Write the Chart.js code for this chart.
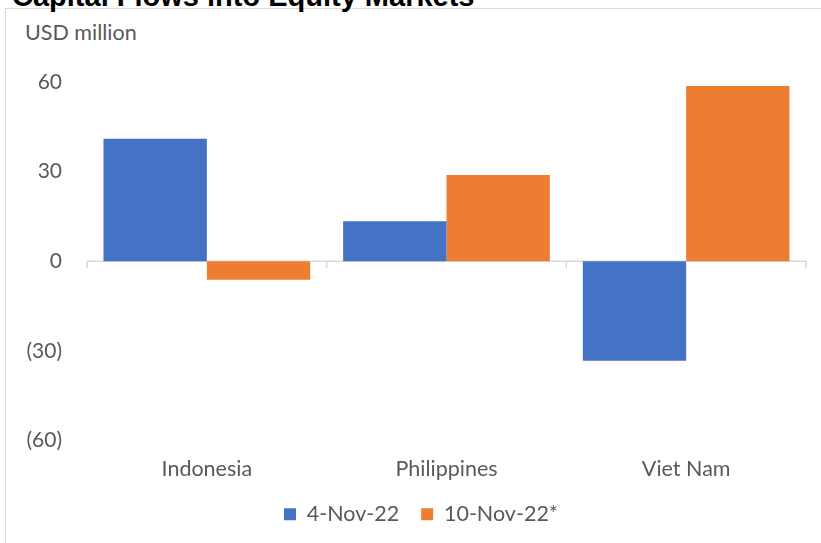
<!DOCTYPE html>
<html>
<head>
<meta charset="utf-8">
<script src="https://cdn.jsdelivr.net/npm/chart.js@4.4.0/dist/chart.umd.min.js"></script>
<style>
  html, body { margin: 0; padding: 0; background: #ffffff; overflow: hidden; }
  #wrap { position: relative; width: 821px; height: 543px; }
  #frame { position: absolute; left: 5px; top: 8px; right: -10px; bottom: -10px;
           border-left: 1.5px solid #d9d9d9; border-top: 1.5px solid #d9d9d9; }
  #title { position: absolute; left: 12px; top: -20px; font-family: "Liberation Sans", Arial, sans-serif;
           font-weight: bold; font-size: 29px; color: #000; white-space: nowrap; }
  #unit { position: absolute; left: 25px; top: 19px; font-family: Lato, "Open Sans", sans-serif;
          font-size: 21.5px; color: #595959; white-space: nowrap; }
  canvas { position: absolute; left: 0; top: 0; }
</style>
</head>
<body>
<div id="wrap">
  <div id="frame"></div>
  <div id="title">Capital Flows into Equity Markets</div>
  <div id="unit">USD million</div>
  <canvas id="c" width="821" height="543"></canvas>
</div>
<script>
const categories = ["Indonesia", "Philippines", "Viet Nam"];
const seriesNames = ["4-Nov-22", "10-Nov-22*"];
const nov4 = [41, 13.4, -33.3];
const nov10 = [-6.2, 28.9, 58.7];
const yTicks = [-60, -30, 0, 30, 60];

const FONT = "Lato, 'Open Sans', sans-serif";
const GRAY = "#595959";
const LINE = "#d9d9d9";

const zeroAxis = {
  id: "zeroAxis",
  afterLayout(chart) {
    const lg = chart.legend;
    if (lg) { lg.left += 18; lg.right += 18; }
  },
  beforeDatasetsDraw(chart) {
    const { ctx, scales: { x, y } } = chart;
    const y0 = y.getPixelForValue(0);
    ctx.save();
    ctx.strokeStyle = LINE;
    ctx.lineWidth = 1.5;
    ctx.beginPath();
    ctx.moveTo(x.left, y0);
    ctx.lineTo(x.right, y0);
    const n = categories.length;
    for (let i = 0; i <= n; i++) {
      const px = x.left + (x.right - x.left) * i / n;
      ctx.moveTo(px, y0);
      ctx.lineTo(px, y0 + 7);
    }
    ctx.stroke();
    ctx.restore();
  }
};

new Chart(document.getElementById("c"), {
  type: "bar",
  data: {
    labels: categories,
    datasets: [
      { label: seriesNames[0], data: nov4, backgroundColor: "#4472C4", borderWidth: 0 },
      { label: seriesNames[1], data: nov10, backgroundColor: "#ED7D31", borderWidth: 0 }
    ]
  },
  options: {
    responsive: false,
    animation: false,
    devicePixelRatio: 1,
    layout: { padding: { top: 82, right: 15, left: 0, bottom: 8 } },
    datasets: { bar: { categoryPercentage: 0.8625, barPercentage: 1.0 } },
    scales: {
      x: {
        grid: { display: false },
        border: { display: false },
        ticks: { color: GRAY, font: { family: FONT, size: 21.5 }, padding: 8 },
        afterFit(scale) { scale.height = 41; }
      },
      y: {
        min: -60, max: 60,
        afterBuildTicks(scale) { scale.ticks = yTicks.map(v => ({ value: v })); },
        grid: { display: false, drawTicks: false },
        border: { display: false },
        ticks: {
          color: GRAY, font: { family: FONT, size: 21 }, padding: 25,
          callback: v => v < 0 ? "(" + (-v) + ")" : String(v)
        },
        afterFit(scale) { scale.width = 87; }
      }
    },
    plugins: {
      legend: {
        position: "bottom",
        labels: { color: GRAY, font: { family: FONT, size: 21.5 }, boxWidth: 12, boxHeight: 12, padding: 22 }
      },
      tooltip: { enabled: false }
    }
  },
  plugins: [zeroAxis]
});
</script>
</body>
</html>
